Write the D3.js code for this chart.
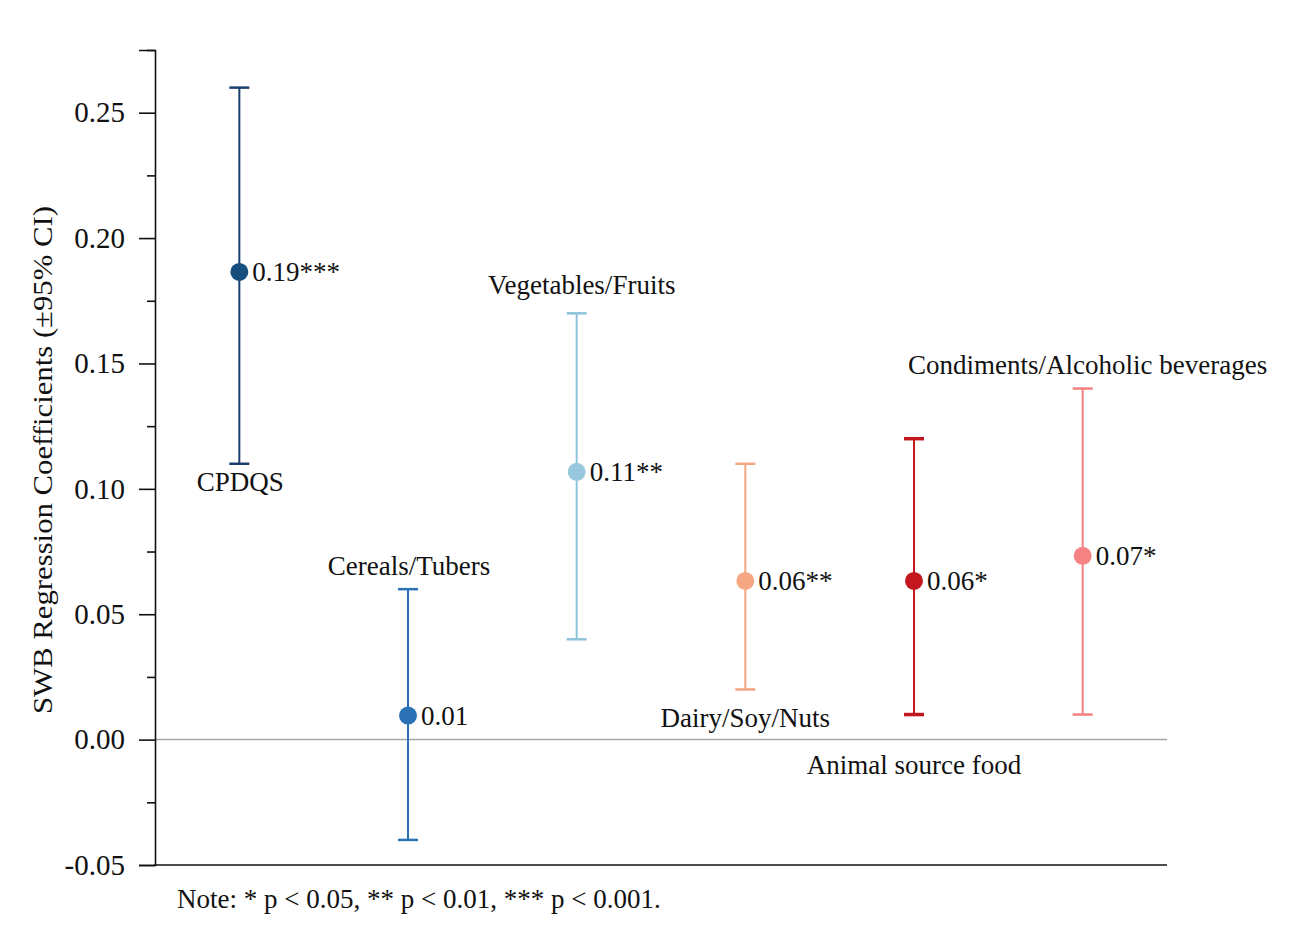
<!DOCTYPE html>
<html>
<head>
<meta charset="utf-8">
<script src="https://cdn.jsdelivr.net/npm/d3@7"></script>
<style>
  html, body { margin: 0; padding: 0; background: #fff; }
  svg { display: block; }
  text { font-family: "Liberation Serif", "Times New Roman", serif; fill: #111; }
</style>
</head>
<body>
<svg id="chart" width="1292" height="925"></svg>
<script>
// ---- data ----
const categories = ["CPDQS", "Cereals/Tubers", "Vegetables/Fruits", "Dairy/Soy/Nuts", "Animal source food", "Condiments/Alcoholic beverages"];
const estimates  = [0.1865, 0.0096, 0.1068, 0.0633, 0.0633, 0.0733];
const lowerCI    = [0.11, -0.04, 0.04, 0.02, 0.01, 0.01];
const upperCI    = [0.26, 0.06, 0.17, 0.11, 0.12, 0.14];
const valueLabels = ["0.19***", "0.01", "0.11**", "0.06**", "0.06*", "0.07*"];
const majorTicks = [-0.05, 0.00, 0.05, 0.10, 0.15, 0.20, 0.25];
const tickLabels = ["-0.05", "0.00", "0.05", "0.10", "0.15", "0.20", "0.25"];
const minorTicks = [-0.025, 0.025, 0.075, 0.125, 0.175, 0.225, 0.275];

// ---- styling / layout (not data) ----
const colors = ["#1b3f6e", "#2a72b5", "#8fc3dc", "#f4a582", "#c3171f", "#f47f80"];
const dotColors = ["#164e7e", "#2a72b5", "#98c8dd", "#f6a884", "#c3171f", "#f58383"];
const capWidths = [2, 2, 2, 2, 3, 2];
// where the category name sits: relative to a CI end, and pixel offset
const namePlace = [
  {ref: "lower", dy: 18, dx: 1},
  {ref: "upper", dy: -24, dx: 1},
  {ref: "upper", dy: -29, dx: 5},
  {ref: "lower", dy: 28, dx: 0},
  {ref: "zero",  dy: 25, dx: 0},
  {ref: "upper", dy: -24, dx: 5}
];

const svg = d3.select("#chart");
const left = 155, right = 1167;

const y = d3.scaleLinear().domain([-0.05, 0.275]).range([865, 50]);
const x = d3.scaleBand().domain(categories).range([left, right]);
const cx = c => x(c) + x.bandwidth() / 2;

// zero line
svg.append("line")
  .attr("x1", left).attr("x2", right)
  .attr("y1", y(0)).attr("y2", y(0))
  .attr("stroke", "#a6a6a6").attr("stroke-width", 1.5);

// y axis major
const yAxis = svg.append("g").attr("transform", `translate(${left},0)`)
  .call(d3.axisLeft(y).tickValues(majorTicks)
    .tickFormat((d, i) => tickLabels[i]).tickSize(16).tickPadding(14));
yAxis.select(".domain").attr("stroke", "#111").attr("stroke-width", 1.6);
yAxis.selectAll(".tick line").attr("stroke", "#111").attr("stroke-width", 1.6);
yAxis.selectAll(".tick text").attr("font-size", 29).attr("font-family", "Liberation Serif").attr("fill", "#111");

// minor ticks
const yMinor = svg.append("g").attr("transform", `translate(${left},0)`)
  .call(d3.axisLeft(y).tickValues(minorTicks).tickFormat("").tickSize(8));
yMinor.select(".domain").remove();
yMinor.selectAll(".tick line").attr("stroke", "#111").attr("stroke-width", 1.6);

// x axis line (bottom)
svg.append("line")
  .attr("x1", left - 0.8).attr("x2", right)
  .attr("y1", y(-0.05)).attr("y2", y(-0.05))
  .attr("stroke", "#111").attr("stroke-width", 1.6);

// y title
svg.append("text")
  .attr("transform", `translate(52,460) rotate(-90)`)
  .attr("text-anchor", "middle")
  .attr("font-size", 27)
  .attr("textLength", 508)
  .attr("lengthAdjust", "spacingAndGlyphs")
  .text("SWB Regression Coefficients (±95% CI)");

// error bars
const g = svg.append("g");
categories.forEach((c, i) => {
  const xc = cx(c);
  g.append("line").attr("x1", xc).attr("x2", xc)
    .attr("y1", y(lowerCI[i])).attr("y2", y(upperCI[i]))
    .attr("stroke", colors[i]).attr("stroke-width", 2);
  [lowerCI[i], upperCI[i]].forEach(v => {
    g.append("line").attr("x1", xc - 10).attr("x2", xc + 10)
      .attr("y1", y(v)).attr("y2", y(v))
      .attr("stroke", colors[i]).attr("stroke-width", capWidths[i] + 0.5);
  });
  g.append("circle").attr("cx", xc).attr("cy", y(estimates[i])).attr("r", 9)
    .attr("fill", dotColors[i]);
  g.append("text").attr("x", xc + 13).attr("y", y(estimates[i]))
    .attr("dy", "0.35em").attr("font-size", 27)
    .text(valueLabels[i]);
  const p = namePlace[i];
  const refVal = p.ref === "lower" ? lowerCI[i] : p.ref === "upper" ? upperCI[i] : 0;
  g.append("text").attr("x", xc + p.dx).attr("y", y(refVal) + p.dy)
    .attr("dy", "0.35em").attr("text-anchor", "middle").attr("font-size", 27)
    .text(c);
});

// note
svg.append("text").attr("x", 177).attr("y", 908).attr("font-size", 27)
  .text("Note: * p < 0.05, ** p < 0.01, *** p < 0.001.");
</script>
</body>
</html>
